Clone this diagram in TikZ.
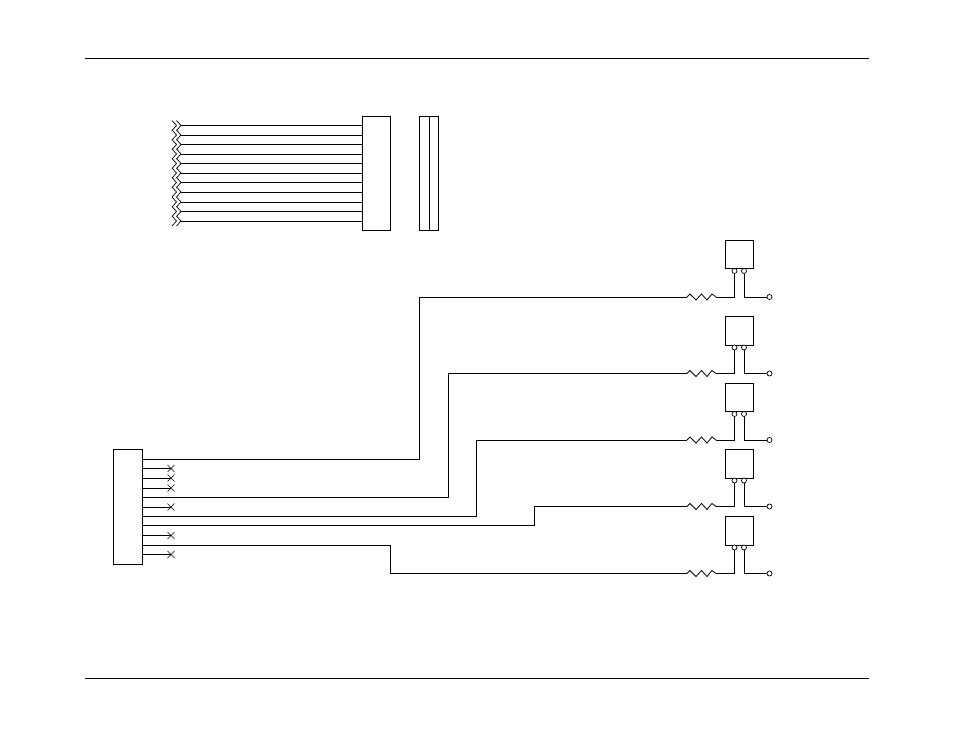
\documentclass[tikz,border=0pt]{standalone}
\usepackage{tikz}
\usetikzlibrary{calc}

\newcommand{\breakmark}[1]{\draw[line width=0.7pt] ($(#1)+(-9,-5)$) -- ++(4.5,5) -- ++(-4.5,5) ($(#1)+(-4.5,-5)$) -- ++(4.5,5) -- ++(-4.5,5);}
\newcommand{\ncmark}[1]{\draw[line width=0.7pt] ($(#1)+(-3.5,-3.5)$) -- ++(7,7) ($(#1)+(3.5,-3.5)$) -- ++(-7,7);}
\newcommand{\zigzag}[1]{\draw (#1.west) -- ++(3,-3) -- ++(6,6) -- ++(5.5,-6) -- ++(5.5,6) -- ++(5,-6) -- (#1.east);}

\begin{document}
\begin{tikzpicture}[x=1pt, y=-1pt, line width=0.8pt]
\tikzstyle{connbox}=[draw=black, fill=none, inner sep=0, outer sep=0, anchor=north west]
\tikzstyle{pin}=[draw=black, fill=white, circle, inner sep=0, minimum size=5pt, line width=0.7pt]
\tikzstyle{wireend}=[inner sep=0, outer sep=0, minimum size=0pt]
\tikzstyle{res}=[inner sep=0, outer sep=0, minimum width=29pt, minimum height=6pt]

\useasboundingbox (0,0) rectangle (954,738);

\coordinate (rl0) at (85,58);
\coordinate (rr0) at (868.5,58);
\coordinate (rl1) at (85,678.5);
\coordinate (rr1) at (868.5,678.5);
\draw (rl0) -- (rr0);
\draw (rl1) -- (rr1);

% top connector
\node (cn) at (362,116) [connbox, minimum width=28.5pt, minimum height=114.5pt] {};
\node (cl) at (419,116) [connbox, minimum width=10pt, minimum height=114.5pt] {};
\node (cr) at (429,116) [connbox, minimum width=9.5pt, minimum height=114.5pt] {};

\coordinate (b0) at (181,125.5);
\coordinate (b1) at (181,135);
\coordinate (b2) at (181,144.5);
\coordinate (b3) at (181,154);
\coordinate (b4) at (181,163.5);
\coordinate (b5) at (181,173);
\coordinate (b6) at (181,182.5);
\coordinate (b7) at (181,192);
\coordinate (b8) at (181,202);
\coordinate (b9) at (181,211.5);
\coordinate (b10) at (181,221);

\breakmark{b0} \breakmark{b1} \breakmark{b2} \breakmark{b3}
\breakmark{b4} \breakmark{b5} \breakmark{b6} \breakmark{b7}
\breakmark{b8} \breakmark{b9} \breakmark{b10}

\draw (b0) -- (b0 -| cn.west);
\draw (b1) -- (b1 -| cn.west);
\draw (b2) -- (b2 -| cn.west);
\draw (b3) -- (b3 -| cn.west);
\draw (b4) -- (b4 -| cn.west);
\draw (b5) -- (b5 -| cn.west);
\draw (b6) -- (b6 -| cn.west);
\draw (b7) -- (b7 -| cn.west);
\draw (b8) -- (b8 -| cn.west);
\draw (b9) -- (b9 -| cn.west);
\draw (b10) -- (b10 -| cn.west);

% lower connector
\node (j) at (113.5,449.5) [connbox, minimum width=29pt, minimum height=114.5pt] {};

\coordinate (x1) at (171,468.5);
\coordinate (x2) at (171,478);
\coordinate (x3) at (171,488);
\coordinate (x4) at (171,507);
\coordinate (x5) at (171,535.5);
\coordinate (x6) at (171,554.5);

\ncmark{x1} \ncmark{x2} \ncmark{x3} \ncmark{x4} \ncmark{x5} \ncmark{x6}

\draw (x1) -- (x1 -| j.east);
\draw (x2) -- (x2 -| j.east);
\draw (x3) -- (x3 -| j.east);
\draw (x4) -- (x4 -| j.east);
\draw (x5) -- (x5 -| j.east);
\draw (x6) -- (x6 -| j.east);

% transistors
\node (q0) at (725.5,240) [connbox, minimum width=28pt, minimum height=28.5pt] {};
\node (q1) at (725.5,316.5) [connbox, minimum width=28pt, minimum height=28.5pt] {};
\node (q2) at (725.5,383) [connbox, minimum width=28pt, minimum height=28.5pt] {};
\node (q3) at (725.5,449.5) [connbox, minimum width=28pt, minimum height=28.5pt] {};
\node (q4) at (725.5,516.5) [connbox, minimum width=28pt, minimum height=28.5pt] {};

\node (r0) at (701.5,297) [res] {};
\node (r1) at (701.5,373.5) [res] {};
\node (r2) at (701.5,440) [res] {};
\node (r3) at (701.5,506.5) [res] {};
\node (r4) at (701.5,573.5) [res] {};

\zigzag{r0} \zigzag{r1} \zigzag{r2} \zigzag{r3} \zigzag{r4}

\node (a0) at (734.5,271) [pin] {};
\node (a1) at (734.5,347.5) [pin] {};
\node (a2) at (734.5,414) [pin] {};
\node (a3) at (734.5,480.5) [pin] {};
\node (a4) at (734.5,547.5) [pin] {};

\node (k0) at (744,271) [pin] {};
\node (k1) at (744,347.5) [pin] {};
\node (k2) at (744,414) [pin] {};
\node (k3) at (744,480.5) [pin] {};
\node (k4) at (744,547.5) [pin] {};

\node (o0) at (769.5,297) [pin] {};
\node (o1) at (769.5,373.5) [pin] {};
\node (o2) at (769.5,440) [pin] {};
\node (o3) at (769.5,506.5) [pin] {};
\node (o4) at (769.5,573.5) [pin] {};

\draw (r0.east) -| (a0.south);
\draw (r1.east) -| (a1.south);
\draw (r2.east) -| (a2.south);
\draw (r3.east) -| (a3.south);
\draw (r4.east) -| (a4.south);

\draw (k0.south) |- (o0.west);
\draw (k1.south) |- (o1.west);
\draw (k2.south) |- (o2.west);
\draw (k3.south) |- (o3.west);
\draw (k4.south) |- (o4.west);

% wires to the resistors
\coordinate (w0) at (142.5,459.5);
\coordinate (w1) at (142.5,497);
\coordinate (w2) at (142.5,516);
\coordinate (w3) at (142.5,525.5);
\coordinate (w4) at (142.5,545);
\coordinate (w5) at (419,0);
\coordinate (w6) at (448,0);
\coordinate (w7) at (476,0);
\coordinate (w8) at (534,0);
\coordinate (w9) at (390,0);

\draw (w0) -| (w5 |- r0.west) -- (r0.west);
\draw (w1) -| (w6 |- r1.west) -- (r1.west);
\draw (w2) -| (w7 |- r2.west) -- (r2.west);
\draw (w3) -| (w8 |- r3.west) -- (r3.west);
\draw (w4) -| (w9 |- r4.west) -- (r4.west);
\end{tikzpicture}
\end{document}
